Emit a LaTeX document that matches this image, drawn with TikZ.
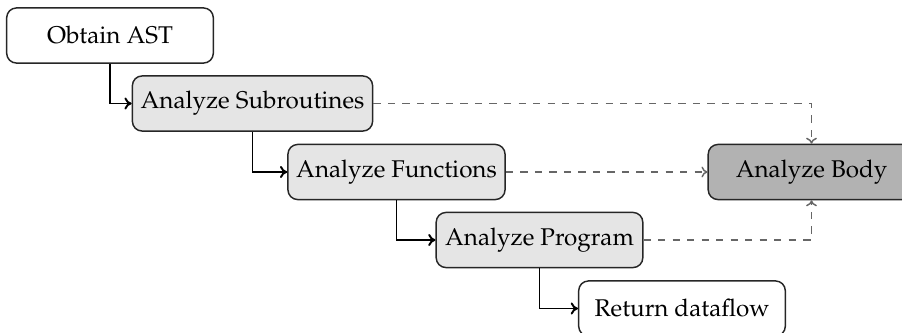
\documentclass[tikz,border=0pt]{standalone}
\usepackage[T1]{fontenc}
\usepackage{mathpazo}
\usetikzlibrary{arrows.meta}

% 1 unit = one pixel of a 902 x 333 canvas (about 2.42 px per pt)
\tikzset{
  x=0.4132pt, y=-0.4132pt,
  stage/.style={draw=black!85, line width=0.6pt, rounded corners=4pt,
    minimum width=3cm, minimum height=0.8cm, inner xsep=3.4pt,
    font=\fontsize{10}{12}\selectfont},
  plain/.style={stage, fill=white},
  analysis/.style={stage, fill=gray!20},
  core/.style={stage, fill=gray!60},
  flow/.style={-{To[length=3pt,width=5pt]}, thick, black},
  calls/.style={-{To[length=2.5pt,width=4.5pt]}, black!60, line width=0.6pt, dashed}
}

\begin{document}
\begin{tikzpicture}
  \useasboundingbox (0,0) rectangle (902,333);

  \node[plain]    (ast)  at (110,35.5)  {Obtain AST};
  \node[analysis] (sub)  at (252.5,103.5) {Analyze Subroutines};
  \node[analysis] (fun)  at (396.5,172) {Analyze Functions};
  \node[analysis] (prog) at (539.5,240) {Analyze Program};
  \node[plain]    (ret)  at (682,308.5) {Return dataflow};
  \node[core]     (body) at (811.5,172) {Analyze Body};

  % main pipeline
  \draw[flow] (ast.south)  |- (sub.west);
  \draw[flow] (sub.south)  |- (fun.west);
  \draw[flow] (fun.south)  |- (prog.west);
  \draw[flow] (prog.south) |- (ret.west);

  % every analysis step hands its bodies over
  \draw[calls] (sub.east)  -| (body.north);
  \draw[calls] (fun.east)  -- (body.west);
  \draw[calls] (prog.east) -| (body.south);
\end{tikzpicture}
\end{document}
